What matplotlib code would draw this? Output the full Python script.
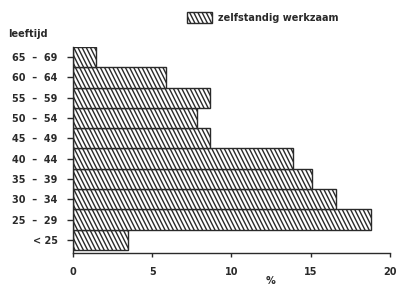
import matplotlib
matplotlib.use("Agg")
import numpy as np
import matplotlib.pyplot as plt
import matplotlib.hatch as mhatch
from matplotlib.path import Path

categories = ["< 25", "25  –  29", "30  –  34", "35  –  39", "40  –  44",
              "45  –  49", "50  –  54", "55  –  59", "60  –  64", "65  –  69"]
values = [3.5, 18.8, 16.6, 15.1, 13.9, 8.65, 7.8, 8.65, 5.85, 1.45]
xticks = [0, 5, 10, 15, 20]
series_name = "zelfstandig werkzaam"


# steep "\" hatch (about 63 degrees), like the plotter hatching of the original
class SteepSouthEastHatch(mhatch.HatchPatternBase):
    def __init__(self, hatch, density):
        n = int(hatch.count('\\') * density)
        if n % 2:
            n += 1
        self.num_lines = n
        self.ks = np.arange(-n // 2 - 2, n + 3) if n else np.array([])
        self.num_vertices = len(self.ks) * 2

    def set_vertices_and_codes(self, vertices, codes):
        x0 = self.ks / self.num_lines
        vertices[0::2, 0] = x0 - 0.05
        vertices[0::2, 1] = 1.1
        vertices[1::2, 0] = x0 + 0.55
        vertices[1::2, 1] = -0.1
        codes[0::2] = Path.MOVETO
        codes[1::2] = Path.LINETO


mhatch._hatch_types[:] = [SteepSouthEastHatch if h is mhatch.SouthEastHatch else h
                          for h in mhatch._hatch_types]

plt.rcParams['hatch.linewidth'] = 1.0
plt.rcParams['font.family'] = ['DejaVu Sans']
ink = "#2a2a2a"
fs = 7

W, H = 398, 287
fig = plt.figure(figsize=(W / 100, H / 100), dpi=100)
ax = fig.add_axes([73 / W, 1 - 253 / H, (390 - 73) / W, (253 - 47) / H])

bars = ax.barh(range(len(categories)), values, height=1.0, color="white",
               edgecolor=ink, linewidth=1.0, hatch="\\\\\\\\", label=series_name)

ax.set_xlim(0, 20)
ax.set_ylim(-0.65, 9.5)
ax.set_yticks(range(len(categories)))
ax.set_yticklabels(categories, fontsize=fs, fontweight="bold", color=ink)
ax.set_xticks(xticks)
ax.set_xticklabels([str(t) for t in xticks], fontsize=fs, fontweight="bold", color=ink)
for s in ["top", "right"]:
    ax.spines[s].set_visible(False)
for s in ["left", "bottom"]:
    ax.spines[s].set_color(ink)
    ax.spines[s].set_linewidth(1.0)
ax.tick_params(axis="y", length=4, width=1.0, color=ink, pad=7)
ax.tick_params(axis="x", length=3, width=1.0, color=ink, pad=7)

fig.text(270 / W, 1 - 281 / H, "%", fontsize=fs, fontweight="bold",
         color=ink, ha="center", va="center")
fig.text(8 / W, 1 - 34 / H, "leeftijd", fontsize=fs, fontweight="bold",
         color=ink, ha="left", va="center")

leg = fig.legend(handles=[bars], labels=[series_name], loc="center left",
                 bbox_to_anchor=(187 / W, 1 - 17.5 / H), frameon=False,
                 fontsize=fs, handlelength=2.6, handleheight=1.35,
                 handletextpad=0.6, borderpad=0, borderaxespad=0)
for t in leg.get_texts():
    t.set_fontweight("bold")
    t.set_color(ink)

fig.savefig("out.png", dpi=100)
